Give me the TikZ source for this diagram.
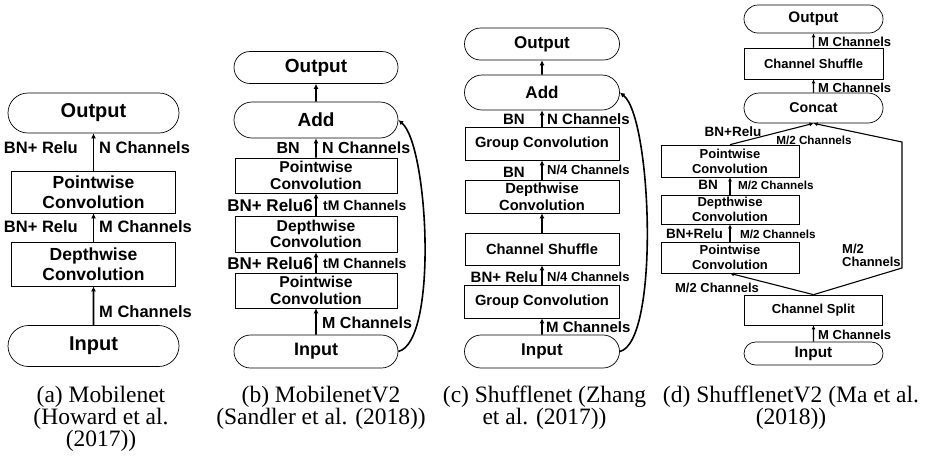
\documentclass[tikz,border=0pt]{standalone}
\usepackage{fontspec}
\setmainfont{Liberation Serif}
\setsansfont{Liberation Sans}
\usetikzlibrary{shapes.misc, arrows.meta, positioning}

\begin{document}
\begin{tikzpicture}[x=1pt, y=-1pt,
	MyTerm/.style={rounded rectangle, draw, line width=0.7pt, inner sep=0pt,
		font=\sffamily\bfseries\fontsize{#1}{#1}\selectfont},
	MyBox/.style 2 args={rectangle, draw, line width=0.7pt, inner sep=0pt, align=center,
		font=\sffamily\bfseries\fontsize{#1}{#2}\selectfont},
	MyLabel/.style={inner sep=0pt, font=\sffamily\bfseries\fontsize{#1}{#1}\selectfont},
	MyArrow/.style={-{Latex[length=5pt,width=5pt]}, line width=1.6pt},
	MyThin/.style={-{Latex[length=4pt,width=4pt]}, line width=1.1pt},
	MyCap/.style={anchor=north, inner sep=0pt, align=center,
		font=\rmfamily\fontsize{23.5}{22}\selectfont}
	]
\useasboundingbox (0,0) rectangle (925,459);

% (a) Mobilenet
\node [MyTerm=20, minimum width=171, minimum height=40] (aout) at (93.5,113) {Output};
\node [MyBox={17.5}{20}, minimum width=164, minimum height=42] (apoint) at (93.5,192) {Pointwise\\Convolution};
\node [MyBox={17.5}{20}, minimum width=164, minimum height=44] (adepth) at (93.5,264) {Depthwise\\Convolution};
\node [MyTerm=20, minimum width=171, minimum height=41] (ain) at (93.5,346) {Input};
\draw [MyArrow] (ain) -- (adepth);
\draw [MyArrow] (adepth) -- (apoint);
\draw [MyArrow] (apoint) -- (aout);
\node [MyLabel=16.5, anchor=east] (abn2) at (78,148) {BN+ Relu};
\node [MyLabel=16.5, anchor=west] (ach2) at (99,148) {N Channels};
\node [MyLabel=16.5, anchor=east] (abn1) at (78,227) {BN+ Relu};
\node [MyLabel=16.5, anchor=west] (ach1) at (99,227) {M Channels};
\node [MyLabel=16.5, anchor=west] (ach0) at (99,312) {M Channels};

% (b) MobilenetV2
\node [MyTerm=19, minimum width=164, minimum height=32] (bout) at (316,67.5) {Output};
\node [MyTerm=19, minimum width=164, minimum height=36] (badd) at (316,120) {Add};
\node [MyBox={15.7}{16.7}, minimum width=162, minimum height=35] (bpoint2) at (316,175.5) {Pointwise\\Convolution};
\node [MyBox={15.7}{16.7}, minimum width=162, minimum height=36] (bdepth) at (316,234) {Depthwise\\Convolution};
\node [MyBox={15.7}{16.7}, minimum width=162, minimum height=35] (bpoint1) at (316,290.5) {Pointwise\\Convolution};
\node [MyTerm=18, minimum width=164, minimum height=33] (bin) at (316,351.5) {Input};
\draw [MyArrow] (bin) -- (bpoint1);
\draw [MyArrow] (bpoint1) -- (bdepth);
\draw [MyArrow] (bdepth) -- (bpoint2);
\draw [MyArrow] (bpoint2) -- (badd);
\draw [MyArrow] (badd) -- (bout);
\draw [MyArrow] (bin.east) .. controls +(40,-10) and +(30,25) .. (badd.east);
\node [MyLabel=16, anchor=east] (bbn3) at (300,148) {BN};
\node [MyLabel=16, anchor=west] (bch3) at (322,148) {N Channels};
\node [MyLabel=17, anchor=east] (bbn2) at (313,205) {BN+ Relu6};
\node [MyLabel=14, anchor=west] (bch2) at (323,205) {tM Channels};
\node [MyLabel=17, anchor=east] (bbn1) at (313,263) {BN+ Relu6};
\node [MyLabel=14, anchor=west] (bch1) at (323,263) {tM Channels};
\node [MyLabel=16, anchor=west] (bch0) at (322,323) {M Channels};

% (c) Shufflenet
\node [MyTerm=17, minimum width=155, minimum height=32] (cout) at (542,44) {Output};
\node [MyTerm=17, minimum width=155, minimum height=35] (cadd) at (542,92.5) {Add};
\node [MyBox={14.7}{16.5}, minimum width=154, minimum height=33] (cgroup2) at (542,143.5) {Group Convolution};
\node [MyBox={14.7}{16.5}, minimum width=154, minimum height=33] (cdepth) at (542,196.5) {Depthwise\\Convolution};
\node [MyBox={14.7}{16.5}, minimum width=154, minimum height=32] (cshuffle) at (542,249) {Channel Shuffle};
\node [MyBox={14.7}{16.5}, minimum width=155, minimum height=33] (cgroup1) at (542,301.5) {Group Convolution};
\node [MyTerm=17, minimum width=155, minimum height=33] (cin) at (542,351.5) {Input};
\draw [MyArrow] (cin) -- (cgroup1);
\draw [MyArrow] (cgroup1) -- (cshuffle);
\draw [MyArrow] (cshuffle) -- (cdepth);
\draw [MyArrow] (cdepth) -- (cgroup2);
\draw [MyArrow] (cgroup2) -- (cadd);
\draw [MyArrow] (cadd) -- (cout);
\draw [MyArrow] (cin.east) .. controls +(40,-10) and +(32,25) .. (cadd.east);
\node [MyLabel=15, anchor=east] (cbn3) at (525,119) {BN};
\node [MyLabel=15, anchor=west] (cch3) at (547,119) {N Channels};
\node [MyLabel=15, anchor=east] (cbn2) at (525,172) {BN};
\node [MyLabel=13, anchor=west] (cch2) at (547,170) {N/4 Channels};
\node [MyLabel=15, anchor=east] (cbn1) at (538,277) {BN+ Relu};
\node [MyLabel=13, anchor=west] (cch1) at (547,277) {N/4 Channels};
\node [MyLabel=15, anchor=west] (cch0) at (546,327) {M Channels};

% (d) ShufflenetV2
\node [MyTerm=15.3, minimum width=139, minimum height=28] (dout) at (813.5,19) {Output};
\node [MyBox={13}{14}, minimum width=139, minimum height=31] (dshuffle) at (813.5,63.5) {Channel Shuffle};
\node [MyTerm=14.2, minimum width=139, minimum height=30] (dconcat) at (813.5,108) {Concat};
\node [MyBox={13}{15}, minimum width=138, minimum height=32] (dpoint2) at (730,161) {Pointwise\\Convolution};
\node [MyBox={13}{15}, minimum width=138, minimum height=29] (ddepth) at (730,209.5) {Depthwise\\Convolution};
\node [MyBox={13}{15}, minimum width=138, minimum height=31] (dpoint1) at (730,257.5) {Pointwise\\Convolution};
\node [MyBox={13}{14}, minimum width=138, minimum height=30] (dsplit) at (813.5,310) {Channel Split};
\node [MyTerm=15.4, minimum width=139, minimum height=23] (din) at (813.5,353.5) {Input};
\coordinate (dturn1) at (902,268);
\coordinate (dturn2) at (902,142);
\draw [MyThin] (din) -- (dsplit);
\draw [MyThin] (dsplit.north) -- (dpoint1.south);
\draw [MyThin] (dpoint1) -- (ddepth);
\draw [MyThin] (ddepth) -- (dpoint2);
\draw [MyThin] (dpoint2.north) -- (dconcat.south);
\draw [MyThin] (dsplit.north) -- (dturn1) -- (dturn2) -- (dconcat.south);
\draw [MyThin] (dconcat) -- (dshuffle);
\draw [MyThin] (dshuffle) -- (dout);
\node [MyLabel=13, anchor=west] (dch5) at (818,42) {M Channels};
\node [MyLabel=13, anchor=west] (dch4) at (818,88) {M Channels};
\node [MyLabel=13.5] (dbn3) at (733,132) {BN+Relu};
\node [MyLabel=11.7] (dch3) at (814,140) {M/2 Channels};
\node [MyLabel=13.5, anchor=east] (dbn2) at (718,185) {BN};
\node [MyLabel=11.7, anchor=west] (dch2) at (738,185) {M/2 Channels};
\node [MyLabel=13.5, anchor=east] (dbn1) at (723,234) {BN+Relu};
\node [MyLabel=11.7, anchor=west] (dch1) at (740,234) {M/2 Channels};
\node [MyLabel=13] (dch0) at (717,288) {M/2 Channels};
\node [MyLabel=13, anchor=west, align=left] (dside) at (842,255.5) {M/2\\Channels};
\node [MyLabel=13, anchor=west] (dchin) at (818,335) {M Channels};

% captions
\node [MyCap] (capa) at (101,386) {(a) Mobilenet\\(Howard et al.\\(2017))};
\node [MyCap] (capb) at (321,386) {(b) MobilenetV2\\(Sandler et al. (2018))};
\node [MyCap] (capc) at (544.5,386) {(c) Shufflenet (Zhang\\et al. (2017))};
\node [MyCap] (capd) at (791,386) {(d) ShufflenetV2 (Ma et al.\\(2018))};

\end{tikzpicture}
\end{document}
